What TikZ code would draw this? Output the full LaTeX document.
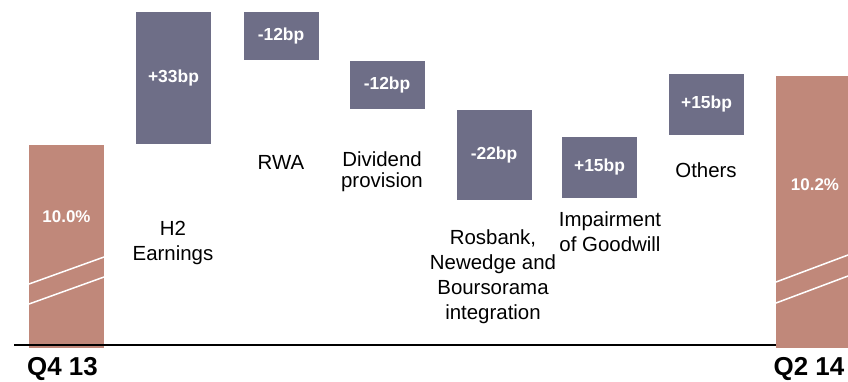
\documentclass[tikz,border=0pt]{standalone}
\usepackage{fontspec}
\setmainfont{Liberation Sans}
\usetikzlibrary{positioning}
\definecolor{capbar}{RGB}{192,136,122}
\definecolor{stepgrey}{RGB}{110,110,135}

\begin{document}
\begin{tikzpicture}[
    x=1bp, y=-1bp,
    every node/.style={inner sep=0pt, outer sep=0pt},
    stepbox/.style={rectangle, fill=stepgrey, minimum width=75bp, text=white, font=\fontsize{17.5}{20}\selectfont\bfseries},
    capbox/.style={rectangle, fill=capbar, minimum width=75bp},
    capval/.style={text=white, font=\fontsize{17}{20}\selectfont\bfseries},
    itemlabel/.style={align=center, font=\fontsize{20.5}{25}\selectfont},
    period/.style={anchor=base, font=\fontsize{26}{30}\selectfont\bfseries},
    hatch/.style={white, line width=1.5bp}
]
\useasboundingbox (0,0) rectangle (848,381);

% start and end ratio
\node[capbox, minimum height=203bp] (q4) at (66.5,246.5) {};
\node[capbox, minimum width=72bp, minimum height=272bp] (q2) at (812,212) {};
\node[capval] (q4val) at (66.5,217) {10.0\%};
\node[capval] (q2val) at (815,185) {10.2\%};

\draw[hatch] (29,284) -- (104,257);
\draw[hatch] (29,304) -- (104,277);
\draw[hatch] (776,282) -- (848,255);
\draw[hatch] (776,303) -- (848,276);

\draw[line width=2bp] (14,345) -- (q2.west |- 0,345);

% steps
\node[stepbox, minimum height=132bp] (earn) at (173.5,78) {+33bp};
\node[stepbox, minimum height=48bp] (rwa) at (281,36) {-12bp};
\node[stepbox, minimum height=48bp] (divd) at (387,85) {-12bp};
\node[stepbox, minimum height=90bp] (integ) at (494,155) {-22bp};
\node[stepbox, minimum height=61bp] (impair) at (599.5,167) {+15bp};
\node[stepbox, minimum height=61bp] (other) at (706.5,104) {+15bp};

% labels
\node[itemlabel] (earnlbl) at (173,243) {H2\\Earnings};
\node[itemlabel] (rwalbl) at (281,162) {RWA};
\node[itemlabel, font=\fontsize{20.5}{21}\selectfont] (divdlbl) at (382,172) {Dividend\\provision};
\node[itemlabel] (integlbl) at (493,277) {Rosbank,\\Newedge and\\Boursorama\\integration};
\node[itemlabel] (impairlbl) at (610,232) {Impairment\\of Goodwill};
\node[itemlabel] (otherlbl) at (706,170) {Others};

\node[period] (q4lbl) at (62.5,375.5) {Q4 13};
\node[period] (q2lbl) at (809,375.5) {Q2 14};

\end{tikzpicture}
\end{document}
